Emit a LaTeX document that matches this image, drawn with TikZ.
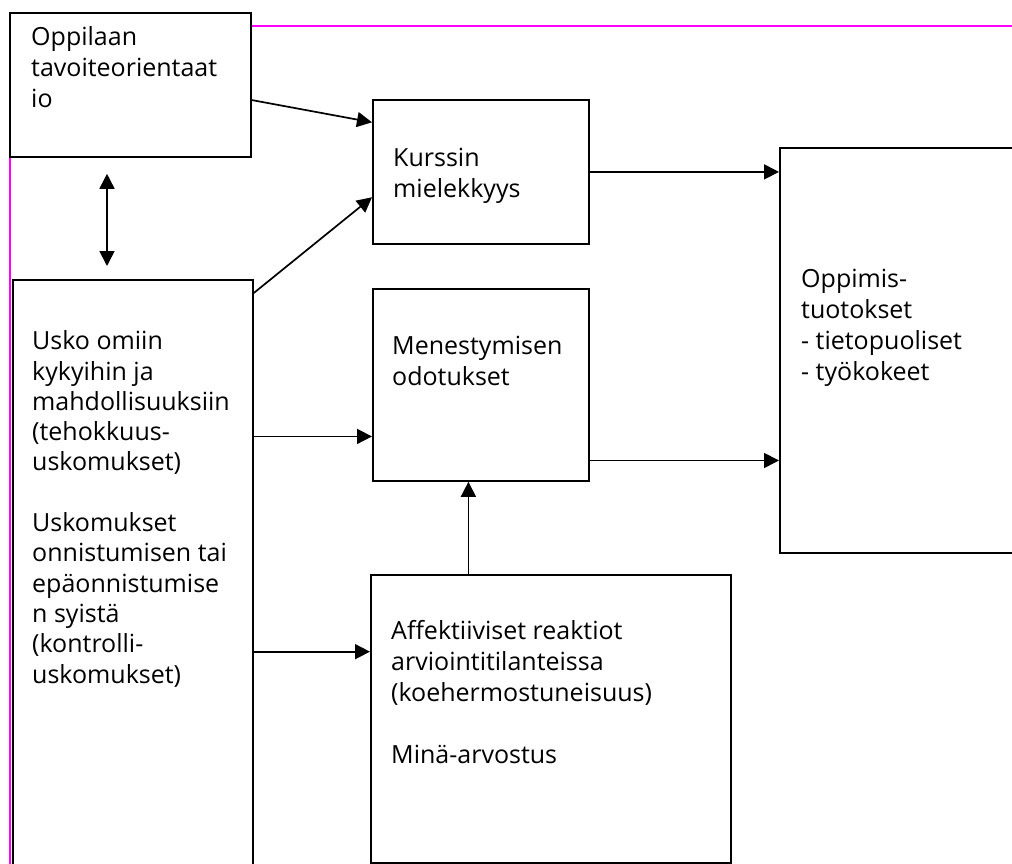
\documentclass[tikz,border=0pt]{standalone}
\usepackage{fontspec}
\setmainfont{Open Sans}
\usetikzlibrary{arrows.meta,calc}
\definecolor{pagemag}{RGB}{255,0,255}
\tikzset{
  box/.style={draw=black, line width=1.8pt, fill=white, rectangle, inner sep=0pt, anchor=north west},
  txt/.style={anchor=base west, align=left, inner sep=0pt, font=\fontsize{25}{31}\selectfont},
  arr/.style={line width=1.7pt, -{Triangle[length=15pt,width=15pt]}},
  darr/.style={line width=1.7pt, {Triangle[length=15pt,width=15pt]}-{Triangle[length=15pt,width=15pt]}},
  border/.style={draw=pagemag, line width=1.5pt}
}
\begin{document}
\begin{tikzpicture}[x=1pt,y=-1pt]
\useasboundingbox (0,0) rectangle (1012,864);
\clip (0,0) rectangle (1012,864);
\fill[white] (0,0) rectangle (1012,864);
% page border (magenta)
\draw[border] (10,900) -- (10,26) -- (1030,26);
% boxes
\node[box, minimum width=241pt, minimum height=144pt] (tav) at (9,12) {};
\node[box, minimum width=240pt, minimum height=640pt] (usko) at (12,279) {};
\node[box, minimum width=216pt, minimum height=144pt] (kurs) at (372,99) {};
\node[box, minimum width=216pt, minimum height=192pt] (men) at (372,288) {};
\node[box, minimum width=360pt, minimum height=288pt] (aff) at (370,574) {};
\node[box, minimum width=260pt, minimum height=405pt] (opp) at (779,147) {};
% texts (anchored at the baseline of their last line)
\node[txt] (ttav) at (31,108) {Oppilaan\\tavoiteorientaat\\io};
\node[txt] (tkurs) at (393,197) {Kurssin\\mielekkyys};
\node[txt] (tmen) at (392,385) {Menestymisen\\odotukset};
\node[txt, font=\fontsize{25}{30.3}\selectfont] (tusko) at (32,683) {Usko omiin\\kykyihin ja\\mahdollisuuksiin\\(tehokkuus-\\uskomukset)\\[30.3pt]Uskomukset\\onnistumisen tai\\epäonnistumise\\n syistä\\(kontrolli-\\uskomukset)};
\node[txt] (topp) at (801,380) {Oppimis-\\tuotokset\\- tietopuoliset\\- työkokeet};
\node[txt] (taff) at (391,763) {Affektiiviset reaktiot\\arviointitilanteissa\\(koehermostuneisuus)\\[31pt]Minä-arvostus};
% connector coordinates
\coordinate (c1s) at ($(tav.north east)!0.604!(tav.south east)$);
\coordinate (c1e) at ($(kurs.north west)!0.16!(kurs.south west)$);
\coordinate (c2s) at ($(usko.north east)+(0,14)$);
\coordinate (c2e) at ($(kurs.north west)!0.674!(kurs.south west)$);
\coordinate (c3e) at ($(men.north west)!0.766!(men.south west)$);
\coordinate (c4e) at ($(aff.north west)!0.268!(aff.south west)$);
\coordinate (c5s) at ($(men.north east)!0.89!(men.south east)$);
\coordinate (c6) at ($(aff.north west)!0.272!(aff.north east)$);
\coordinate (dx) at (107,0);
% connectors
\draw[arr] (c1s) -- (c1e);
\draw[arr] (c2s) -- (c2e);
\draw[arr] (usko.east |- c3e) -- (c3e);
\draw[arr] (usko.east |- c4e) -- (c4e);
\draw[arr] (kurs.east) -- (kurs.east -| opp.west);
\draw[arr] (c5s) -- (c5s -| opp.west);
\draw[arr] (c6) -- (c6 |- men.south);
\draw[darr, shorten <=16pt, shorten >=13pt] (tav.south -| dx) -- (usko.north -| dx);
\end{tikzpicture}
\end{document}
